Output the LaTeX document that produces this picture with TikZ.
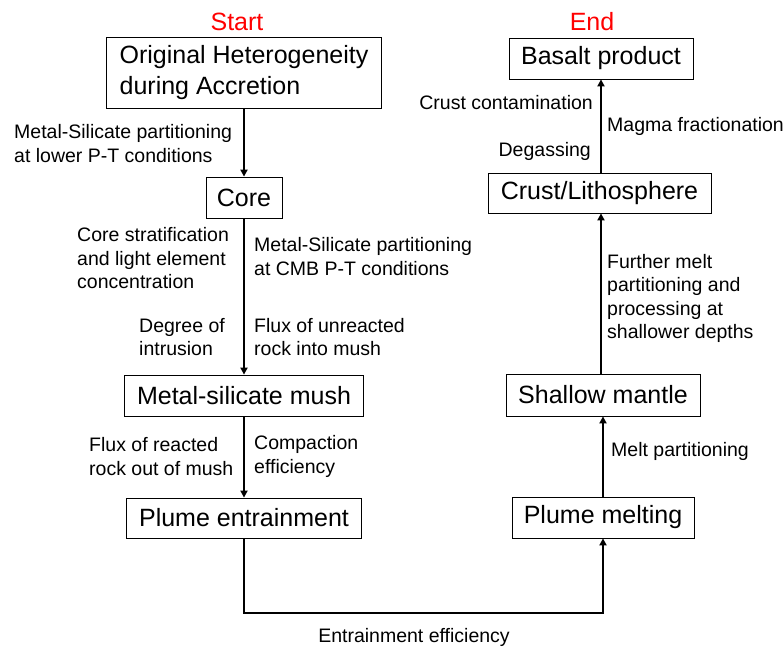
\documentclass[tikz,border=0pt]{standalone}
\usepackage{fontspec}
\setmainfont{Liberation Sans}
\usetikzlibrary{arrows.meta}
\begin{document}
\begin{tikzpicture}[x=1pt,y=-1pt,
 box/.style={draw, line width=0.8pt, inner sep=0pt, font=\fontsize{25}{31}\selectfont, align=center},
 lbl/.style={inner sep=0pt, font=\fontsize{19.5}{23.5}\selectfont, align=left},
 flow/.style={line width=2pt, -{Triangle[length=7pt,width=7pt]}},
 ttl/.style={text=red, font=\fontsize{25}{30}\selectfont, inner sep=0pt}]
\useasboundingbox (0,0) rectangle (784,650);
% titles
\node[ttl] (start) at (237,22) {Start};
\node[ttl] (end) at (592,22) {End};
% left column
\node[box, align=left, minimum width=275pt, minimum height=71pt] (orig) at (244,73) {Original Heterogeneity\\during Accretion};
\node[box, minimum width=76pt, minimum height=41pt] (core) at (244,197.5) {Core};
\node[box, minimum width=239pt, minimum height=41pt] (mush) at (244,395.5) {Metal-silicate mush};
\node[box, minimum width=235pt, minimum height=40pt] (pent) at (244,518) {Plume entrainment};
% right column
\node[box, minimum width=184pt, minimum height=41pt] (basalt) at (601,58.5) {Basalt product};
\node[box, minimum width=223pt, minimum height=40pt] (crust) at (599.5,193) {Crust/Lithosphere};
\node[box, minimum width=194pt, minimum height=42pt] (shallow) at (603,395) {Shallow mantle};
\node[box, minimum width=182pt, minimum height=41pt] (pmelt) at (603,517.5) {Plume melting};
% connectors
\draw[flow] (orig) -- (core);
\draw[flow] (core) -- (mush);
\draw[flow] (mush) -- (pent);
\coordinate (turn) at (424,613);
\draw[flow] (pent.south) |- (turn) -| (pmelt.south);
\draw[flow] (pmelt) -- (shallow);
\draw[flow] (shallow.north -| basalt.south) -- (crust.south -| basalt.south);
\draw[flow] (crust.north -| basalt.south) -- (basalt.south);
% labels
\node[lbl, anchor=west] (l1) at (14,143.5) {Metal-Silicate partitioning\\at lower P-T conditions};
\node[lbl, anchor=west] (l2) at (77,258.5) {Core stratification\\and light element\\concentration};
\node[lbl, anchor=west] (l3) at (254,256.5) {Metal-Silicate partitioning\\at CMB P-T conditions};
\node[lbl, anchor=west] (l4) at (139,337) {Degree of\\intrusion};
\node[lbl, anchor=west] (l5) at (254,337) {Flux of unreacted\\rock into mush};
\node[lbl, anchor=west] (l6) at (89,456.5) {Flux of reacted\\rock out of mush};
\node[lbl, anchor=west] (l7) at (254,456.5) {Compaction\\efficiency};
\node[lbl] (l8) at (414,637) {Entrainment efficiency};
\node[lbl, anchor=west] (l9) at (611,451) {Melt partitioning};
\node[lbl, anchor=west] (l10) at (607,298.5) {Further melt\\partitioning and\\processing at\\shallower depths};
\node[lbl, anchor=east] (l11) at (593,103) {Crust contamination};
\node[lbl, anchor=west] (l12) at (607,126) {Magma fractionation};
\node[lbl, anchor=east] (l13) at (591,151) {Degassing};
\end{tikzpicture}
\end{document}
